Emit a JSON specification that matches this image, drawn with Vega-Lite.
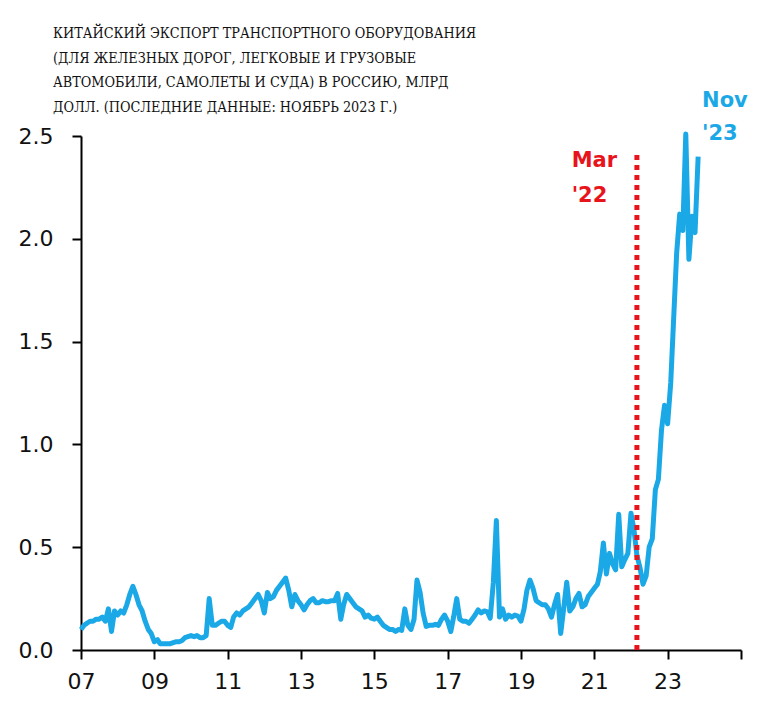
{
  "$schema": "https://vega.github.io/schema/vega-lite/v6.json",
  "width": 660,
  "height": 514,
  "autosize": {"type": "none"},
  "padding": {"left": 81, "top": 136, "right": 29, "bottom": 72},
  "background": "white",
  "config": {"view": {"stroke": null}, "font": "DejaVu Sans"},
  "title": {
    "text": [
      "КИТАЙСКИЙ ЭКСПОРТ ТРАНСПОРТНОГО ОБОРУДОВАНИЯ",
      "(ДЛЯ ЖЕЛЕЗНЫХ ДОРОГ, ЛЕГКОВЫЕ И ГРУЗОВЫЕ",
      "АВТОМОБИЛИ, САМОЛЕТЫ И СУДА) В РОССИЮ, МЛРД",
      "ДОЛЛ. (ПОСЛЕДНИЕ ДАННЫЕ: НОЯБРЬ 2023 Г.)"
    ],
    "anchor": "start",
    "frame": "group",
    "font": "DejaVu Serif Condensed, Liberation Serif",
    "fontSize": 14.3,
    "fontWeight": "normal",
    "color": "#111111",
    "lineHeight": 24.5,
    "dx": -28,
    "dy": 25,
    "offset": 0
  },
  "datasets": {
    "series": [
      {"date": "2007-01", "v": 0.10}, {"date": "2007-02", "v": 0.12}, {"date": "2007-03", "v": 0.13}, {"date": "2007-04", "v": 0.14},
      {"date": "2007-05", "v": 0.14}, {"date": "2007-06", "v": 0.15}, {"date": "2007-07", "v": 0.15}, {"date": "2007-08", "v": 0.16},
      {"date": "2007-09", "v": 0.14}, {"date": "2007-10", "v": 0.20}, {"date": "2007-11", "v": 0.09}, {"date": "2007-12", "v": 0.19},
      {"date": "2008-01", "v": 0.17}, {"date": "2008-02", "v": 0.19}, {"date": "2008-03", "v": 0.18}, {"date": "2008-04", "v": 0.22},
      {"date": "2008-05", "v": 0.27}, {"date": "2008-06", "v": 0.31}, {"date": "2008-07", "v": 0.27}, {"date": "2008-08", "v": 0.22},
      {"date": "2008-09", "v": 0.19}, {"date": "2008-10", "v": 0.14}, {"date": "2008-11", "v": 0.10}, {"date": "2008-12", "v": 0.08},
      {"date": "2009-01", "v": 0.04}, {"date": "2009-02", "v": 0.05}, {"date": "2009-03", "v": 0.03}, {"date": "2009-04", "v": 0.03},
      {"date": "2009-05", "v": 0.03}, {"date": "2009-06", "v": 0.03}, {"date": "2009-07", "v": 0.035}, {"date": "2009-08", "v": 0.04},
      {"date": "2009-09", "v": 0.04}, {"date": "2009-10", "v": 0.045}, {"date": "2009-11", "v": 0.06}, {"date": "2009-12", "v": 0.065},
      {"date": "2010-01", "v": 0.07}, {"date": "2010-02", "v": 0.065}, {"date": "2010-03", "v": 0.07}, {"date": "2010-04", "v": 0.06},
      {"date": "2010-05", "v": 0.06}, {"date": "2010-06", "v": 0.07}, {"date": "2010-07", "v": 0.25}, {"date": "2010-08", "v": 0.12},
      {"date": "2010-09", "v": 0.12}, {"date": "2010-10", "v": 0.13}, {"date": "2010-11", "v": 0.14}, {"date": "2010-12", "v": 0.14},
      {"date": "2011-01", "v": 0.12}, {"date": "2011-02", "v": 0.11}, {"date": "2011-03", "v": 0.16}, {"date": "2011-04", "v": 0.18},
      {"date": "2011-05", "v": 0.17}, {"date": "2011-06", "v": 0.19}, {"date": "2011-07", "v": 0.20}, {"date": "2011-08", "v": 0.21},
      {"date": "2011-09", "v": 0.23}, {"date": "2011-10", "v": 0.25}, {"date": "2011-11", "v": 0.27}, {"date": "2011-12", "v": 0.24},
      {"date": "2012-01", "v": 0.18}, {"date": "2012-02", "v": 0.28}, {"date": "2012-03", "v": 0.25}, {"date": "2012-04", "v": 0.26},
      {"date": "2012-05", "v": 0.29}, {"date": "2012-06", "v": 0.31}, {"date": "2012-07", "v": 0.33}, {"date": "2012-08", "v": 0.35},
      {"date": "2012-09", "v": 0.29}, {"date": "2012-10", "v": 0.21}, {"date": "2012-11", "v": 0.27}, {"date": "2012-12", "v": 0.24},
      {"date": "2013-01", "v": 0.22}, {"date": "2013-02", "v": 0.195}, {"date": "2013-03", "v": 0.22}, {"date": "2013-04", "v": 0.24},
      {"date": "2013-05", "v": 0.25}, {"date": "2013-06", "v": 0.23}, {"date": "2013-07", "v": 0.23}, {"date": "2013-08", "v": 0.24},
      {"date": "2013-09", "v": 0.235}, {"date": "2013-10", "v": 0.235}, {"date": "2013-11", "v": 0.24}, {"date": "2013-12", "v": 0.24},
      {"date": "2014-01", "v": 0.275}, {"date": "2014-02", "v": 0.15}, {"date": "2014-03", "v": 0.22}, {"date": "2014-04", "v": 0.27},
      {"date": "2014-05", "v": 0.25}, {"date": "2014-06", "v": 0.23}, {"date": "2014-07", "v": 0.21}, {"date": "2014-08", "v": 0.20},
      {"date": "2014-09", "v": 0.19}, {"date": "2014-10", "v": 0.16}, {"date": "2014-11", "v": 0.17}, {"date": "2014-12", "v": 0.155},
      {"date": "2015-01", "v": 0.15}, {"date": "2015-02", "v": 0.16}, {"date": "2015-03", "v": 0.14}, {"date": "2015-04", "v": 0.12},
      {"date": "2015-05", "v": 0.11}, {"date": "2015-06", "v": 0.10}, {"date": "2015-07", "v": 0.10}, {"date": "2015-08", "v": 0.09},
      {"date": "2015-09", "v": 0.10}, {"date": "2015-10", "v": 0.095}, {"date": "2015-11", "v": 0.20}, {"date": "2015-12", "v": 0.12},
      {"date": "2016-01", "v": 0.10}, {"date": "2016-02", "v": 0.15}, {"date": "2016-03", "v": 0.34}, {"date": "2016-04", "v": 0.28},
      {"date": "2016-05", "v": 0.18}, {"date": "2016-06", "v": 0.115}, {"date": "2016-07", "v": 0.12}, {"date": "2016-08", "v": 0.12},
      {"date": "2016-09", "v": 0.125}, {"date": "2016-10", "v": 0.12}, {"date": "2016-11", "v": 0.15}, {"date": "2016-12", "v": 0.17},
      {"date": "2017-01", "v": 0.14}, {"date": "2017-02", "v": 0.09}, {"date": "2017-03", "v": 0.16}, {"date": "2017-04", "v": 0.25},
      {"date": "2017-05", "v": 0.15}, {"date": "2017-06", "v": 0.14}, {"date": "2017-07", "v": 0.14}, {"date": "2017-08", "v": 0.13},
      {"date": "2017-09", "v": 0.15}, {"date": "2017-10", "v": 0.17}, {"date": "2017-11", "v": 0.195}, {"date": "2017-12", "v": 0.18},
      {"date": "2018-01", "v": 0.19}, {"date": "2018-02", "v": 0.185}, {"date": "2018-03", "v": 0.155}, {"date": "2018-04", "v": 0.33},
      {"date": "2018-05", "v": 0.63}, {"date": "2018-06", "v": 0.16}, {"date": "2018-07", "v": 0.20}, {"date": "2018-08", "v": 0.15},
      {"date": "2018-09", "v": 0.17}, {"date": "2018-10", "v": 0.16}, {"date": "2018-11", "v": 0.17}, {"date": "2018-12", "v": 0.165},
      {"date": "2019-01", "v": 0.14}, {"date": "2019-02", "v": 0.20}, {"date": "2019-03", "v": 0.29}, {"date": "2019-04", "v": 0.34},
      {"date": "2019-05", "v": 0.30}, {"date": "2019-06", "v": 0.24}, {"date": "2019-07", "v": 0.23}, {"date": "2019-08", "v": 0.22},
      {"date": "2019-09", "v": 0.22}, {"date": "2019-10", "v": 0.20}, {"date": "2019-11", "v": 0.16}, {"date": "2019-12", "v": 0.22},
      {"date": "2020-01", "v": 0.27}, {"date": "2020-02", "v": 0.08}, {"date": "2020-03", "v": 0.20}, {"date": "2020-04", "v": 0.33},
      {"date": "2020-05", "v": 0.19}, {"date": "2020-06", "v": 0.21}, {"date": "2020-07", "v": 0.25}, {"date": "2020-08", "v": 0.275},
      {"date": "2020-09", "v": 0.21}, {"date": "2020-10", "v": 0.22}, {"date": "2020-11", "v": 0.26}, {"date": "2020-12", "v": 0.28},
      {"date": "2021-01", "v": 0.30}, {"date": "2021-02", "v": 0.32}, {"date": "2021-03", "v": 0.38}, {"date": "2021-04", "v": 0.52},
      {"date": "2021-05", "v": 0.37}, {"date": "2021-06", "v": 0.47}, {"date": "2021-07", "v": 0.42}, {"date": "2021-08", "v": 0.39},
      {"date": "2021-09", "v": 0.66}, {"date": "2021-10", "v": 0.405}, {"date": "2021-11", "v": 0.44}, {"date": "2021-12", "v": 0.47},
      {"date": "2022-01", "v": 0.665}, {"date": "2022-02", "v": 0.58}, {"date": "2022-03", "v": 0.46}, {"date": "2022-04", "v": 0.40},
      {"date": "2022-05", "v": 0.32}, {"date": "2022-06", "v": 0.36}, {"date": "2022-07", "v": 0.50}, {"date": "2022-08", "v": 0.54},
      {"date": "2022-09", "v": 0.78}, {"date": "2022-10", "v": 0.83}, {"date": "2022-11", "v": 1.07}, {"date": "2022-12", "v": 1.19},
      {"date": "2023-01", "v": 1.10}, {"date": "2023-02", "v": 1.30}, {"date": "2023-03", "v": 1.60}, {"date": "2023-04", "v": 1.93},
      {"date": "2023-05", "v": 2.12}, {"date": "2023-06", "v": 2.04}, {"date": "2023-07", "v": 2.51}, {"date": "2023-08", "v": 1.90},
      {"date": "2023-09", "v": 2.11}, {"date": "2023-10", "v": 2.03}, {"date": "2023-11", "v": 2.40}
    ],
    "event": [
      {"date": "2022-03-01", "y0": 0, "y1": 2.42}
    ],
    "notes": [
      {"date": "2020-05-20", "v": 2.38, "label": "Mar", "series": "event"},
      {"date": "2020-05-20", "v": 2.21, "label": "'22", "series": "event"},
      {"date": "2023-12-10", "v": 2.67, "label": "Nov", "series": "latest"},
      {"date": "2023-12-10", "v": 2.51, "label": "'23", "series": "latest"}
    ]
  },
  "layer": [
    {
      "data": {"name": "series"},
      "mark": {"type": "line", "color": "#1BA8E6", "strokeWidth": 5, "strokeJoin": "round", "clip": false},
      "encoding": {
        "x": {
          "field": "date", "type": "temporal",
          "scale": {"type": "utc", "domain": [{"year": 2007, "utc": true}, {"year": 2025, "utc": true}]},
          "axis": {
            "title": null, "grid": false,
            "values": [{"year": 2007, "utc": true}, {"year": 2009, "utc": true}, {"year": 2011, "utc": true}, {"year": 2013, "utc": true}, {"year": 2015, "utc": true}, {"year": 2017, "utc": true}, {"year": 2019, "utc": true}, {"year": 2021, "utc": true}, {"year": 2023, "utc": true}, {"year": 2025, "utc": true}],
            "format": "%y",
            "labelExpr": "datum.label == '25' ? '' : datum.label",
            "labelFlush": false, "labelOverlap": false,
            "domainColor": "#000", "domainWidth": 2,
            "tickColor": "#000", "tickWidth": 2, "tickSize": 9,
            "labelFont": "DejaVu Sans", "labelFontSize": 22, "labelColor": "#111", "labelPadding": 12
          }
        },
        "y": {
          "field": "v", "type": "quantitative",
          "scale": {"domain": [0, 2.5], "nice": false},
          "axis": {
            "title": null, "grid": false,
            "values": [0, 0.5, 1, 1.5, 2, 2.5],
            "format": ".1f",
            "domainColor": "#000", "domainWidth": 2,
            "tickColor": "#000", "tickWidth": 2, "tickSize": 9,
            "labelFont": "DejaVu Sans", "labelFontSize": 22, "labelColor": "#111", "labelPadding": 19
          }
        }
      }
    },
    {
      "data": {"name": "event"},
      "mark": {"type": "rule", "color": "#E8141C", "strokeWidth": 5, "strokeDash": [5, 5]},
      "encoding": {
        "x": {"field": "date", "type": "temporal"},
        "y": {"field": "y0", "type": "quantitative"},
        "y2": {"field": "y1"}
      }
    },
    {
      "data": {"name": "notes"},
      "mark": {"type": "text", "align": "left", "baseline": "middle", "fontWeight": "bold", "fontSize": 21, "font": "DejaVu Sans", "clip": false},
      "encoding": {
        "x": {"field": "date", "type": "temporal"},
        "y": {"field": "v", "type": "quantitative"},
        "text": {"field": "label"},
        "color": {"field": "series", "type": "nominal", "scale": {"domain": ["event", "latest"], "range": ["#E8141C", "#1BA8E6"]}, "legend": null}
      }
    }
  ]
}
